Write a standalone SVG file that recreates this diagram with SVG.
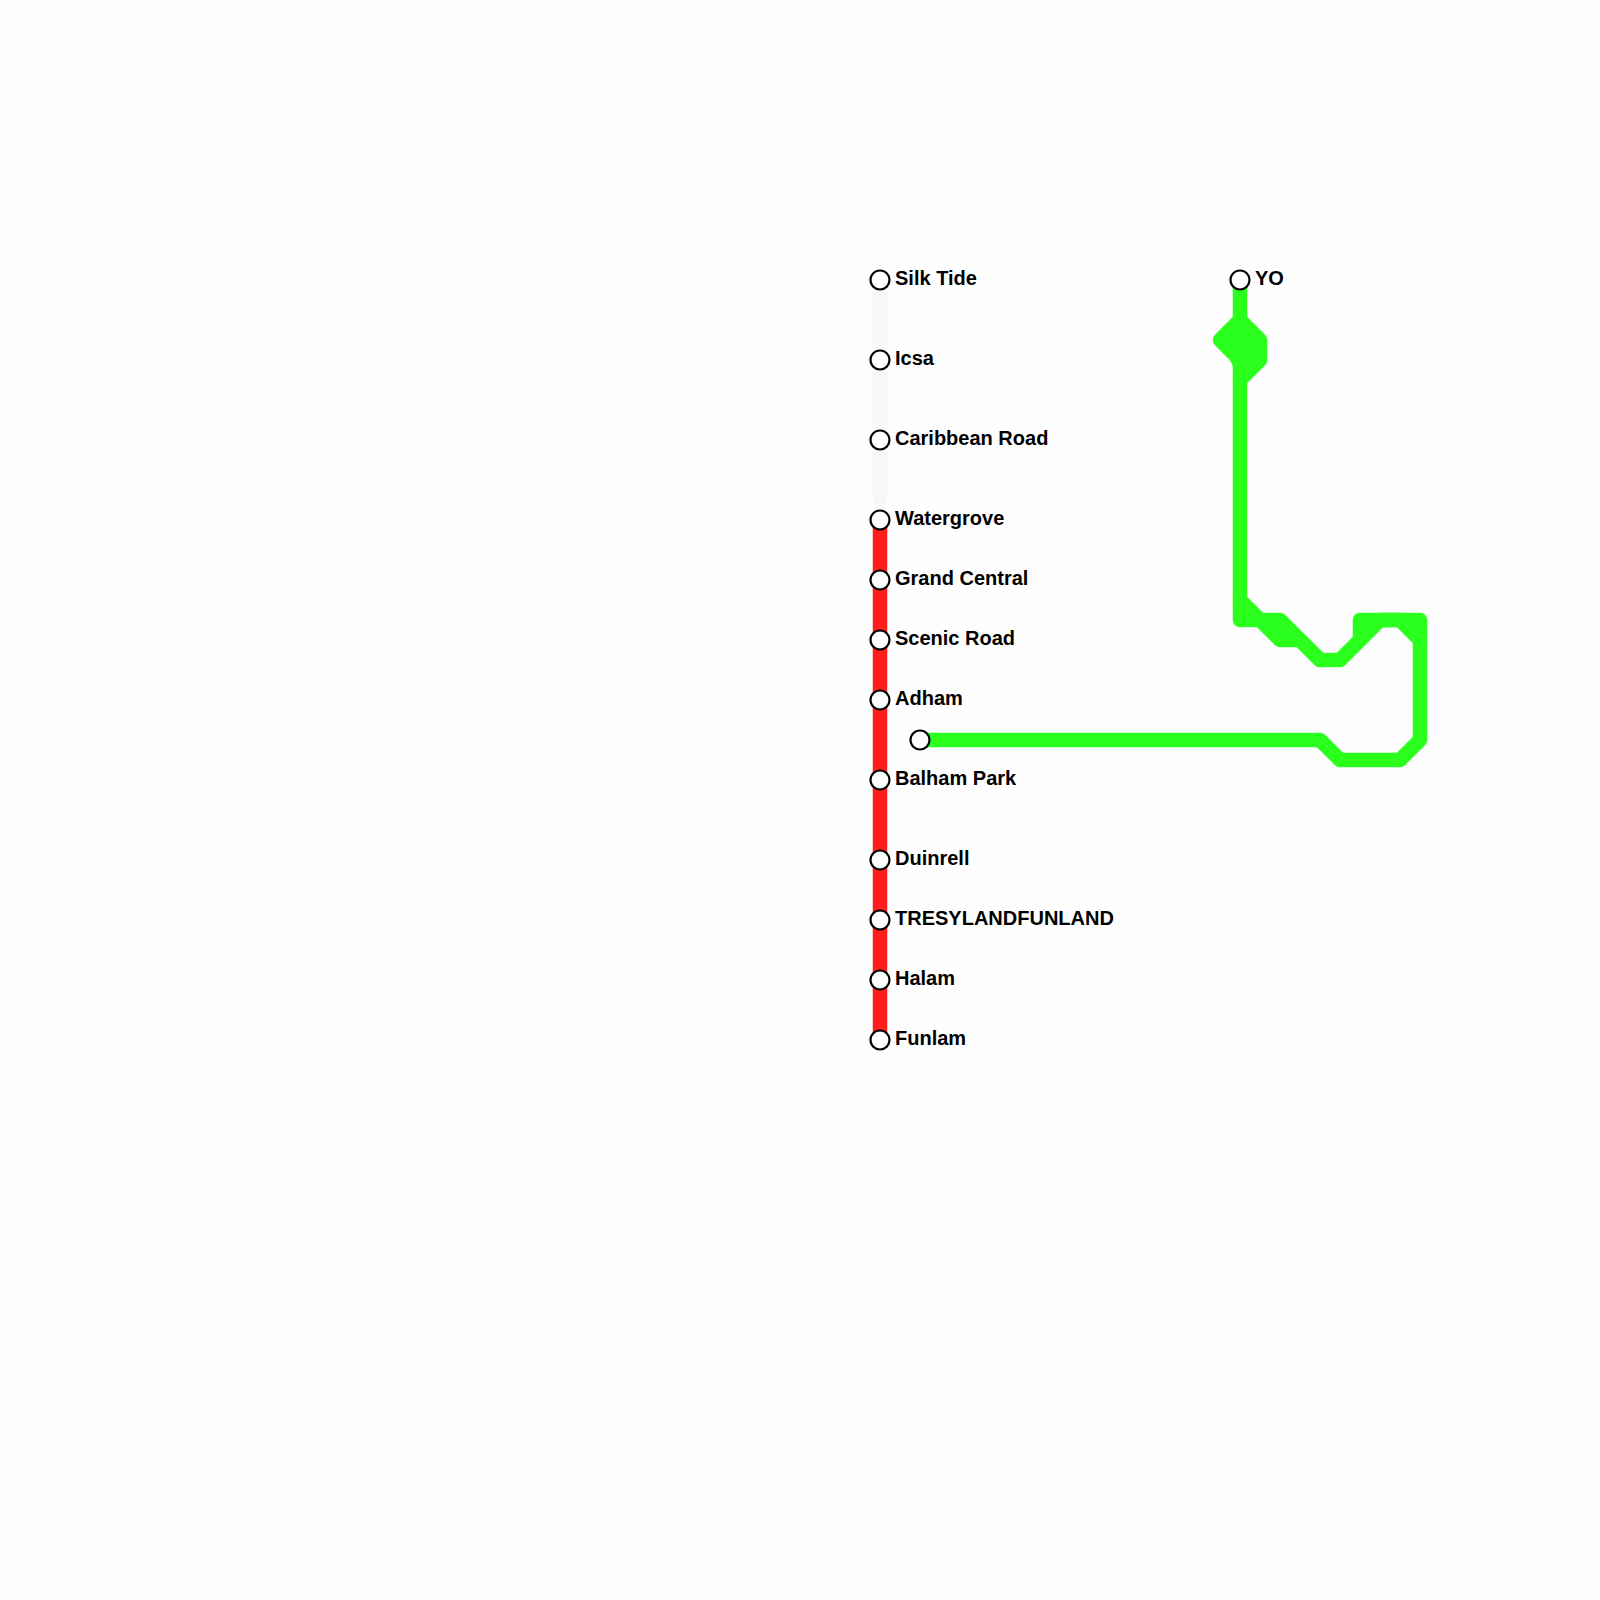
<svg xmlns="http://www.w3.org/2000/svg" width="1600" height="1600" viewBox="0 0 1600 1600">
<style>
.line{fill:none;stroke-width:14.5;stroke-linejoin:round;stroke-linecap:round}
.green{stroke:#2aff1e}
.red{stroke:#ff1e1e}
.pale{stroke:#f8f8f8}
.st{fill:#fff;stroke:#000;stroke-width:2.2}
.lb{font-family:"Liberation Sans",Arial,sans-serif;font-weight:700;font-size:20px;fill:#000}
</style>
<rect width="1600" height="1600" fill="#fefefe"/>
<g id="connectors">
<path class="line pale" d="M880 280V500"/>
<path class="line red" d="M880 520V1040"/>
<path class="line green" d="M1240 280V620H1260L1280 640H1300L1320 660H1340L1380 620H1400L1420 640V740L1400 760H1340L1320 740H920"/>
<path class="line green" d="M1240 320L1220 340L1240 360L1260 340L1240 320L1260 340V360L1240 380"/>
<path class="line green" d="M1240 600L1260 620H1280L1320 660"/>
<path class="line green" d="M1360 640V620H1420V640"/>
<path fill="#2aff1e" d="M1240 320L1260 340V360L1240 380L1220 340Z"/>
</g>
<g id="n1"><circle class="st" cx="880" cy="280" r="9.5"/><text class="lb" x="895" y="284.5">Silk Tide</text></g>
<g id="n2"><circle class="st" cx="880" cy="360" r="9.5"/><text class="lb" x="895" y="364.5">Icsa</text></g>
<g id="n3"><circle class="st" cx="880" cy="440" r="9.5"/><text class="lb" x="895" y="444.5">Caribbean Road</text></g>
<g id="n4"><circle class="st" cx="880" cy="520" r="9.5"/><text class="lb" x="895" y="524.5">Watergrove</text></g>
<g id="n5"><circle class="st" cx="880" cy="580" r="9.5"/><text class="lb" x="895" y="584.5">Grand Central</text></g>
<g id="n6"><circle class="st" cx="880" cy="640" r="9.5"/><text class="lb" x="895" y="644.5">Scenic Road</text></g>
<g id="n7"><circle class="st" cx="880" cy="700" r="9.5"/><text class="lb" x="895" y="704.5">Adham</text></g>
<g id="n8"><circle class="st" cx="880" cy="780" r="9.5"/><text class="lb" x="895" y="784.5">Balham Park</text></g>
<g id="n9"><circle class="st" cx="880" cy="860" r="9.5"/><text class="lb" x="895" y="864.5">Duinrell</text></g>
<g id="n10"><circle class="st" cx="880" cy="920" r="9.5"/><text class="lb" x="895" y="924.5">TRESYLANDFUNLAND</text></g>
<g id="n11"><circle class="st" cx="880" cy="980" r="9.5"/><text class="lb" x="895" y="984.5">Halam</text></g>
<g id="n12"><circle class="st" cx="880" cy="1040" r="9.5"/><text class="lb" x="895" y="1044.5">Funlam</text></g>
<g id="n13"><circle class="st" cx="1240" cy="280" r="9.5"/><text class="lb" x="1255" y="284.5">YO</text></g>
<g id="n14"><circle class="st" cx="920" cy="740" r="9.5"/></g>
</svg>
